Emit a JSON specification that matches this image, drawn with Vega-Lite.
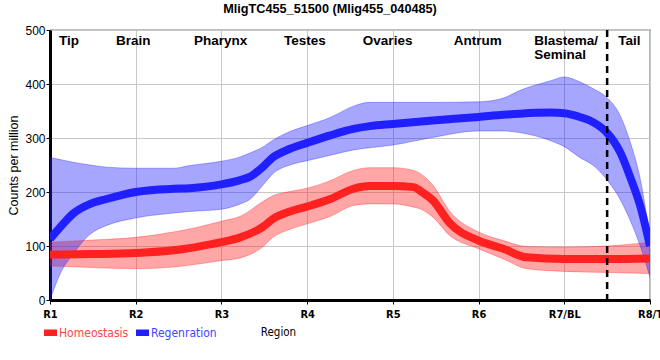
{
  "$schema": "https://vega.github.io/schema/vega-lite/v6.json",
  "width": 600,
  "height": 270,
  "autosize": {"type": "none"},
  "padding": {"left": 50, "top": 30, "right": 10, "bottom": 60},
  "background": "white",
  "title": {
    "text": "MligTC455_51500 (Mlig455_040485)",
    "font": "Liberation Sans",
    "fontSize": 12.7,
    "fontWeight": "bold",
    "color": "#000",
    "anchor": "middle",
    "frame": "group",
    "dx": -20,
    "offset": -2,
    "baseline": "alphabetic"
  },
  "config": {
    "view": {"stroke": "#000", "strokeWidth": 1.2},
    "axis": {
      "gridColor": "#c8c8c8",
      "gridWidth": 1,
      "domainColor": "#000",
      "domainWidth": 3,
      "tickColor": "#000",
      "tickSize": 4,
      "labelColor": "#000",
      "titleColor": "#000"
    }
  },
  "datasets": {
    "curves": [
      {"series": "Homeostasis", "x": 1.0, "mean": 84, "lo": 63, "hi": 107},
      {"series": "Homeostasis", "x": 1.5, "mean": 85, "lo": 60, "hi": 111},
      {"series": "Homeostasis", "x": 2.0, "mean": 87, "lo": 58, "hi": 116},
      {"series": "Homeostasis", "x": 2.44, "mean": 92, "lo": 61, "hi": 126},
      {"series": "Homeostasis", "x": 2.7, "mean": 98, "lo": 66, "hi": 134},
      {"series": "Homeostasis", "x": 3.0, "mean": 107, "lo": 73, "hi": 146},
      {"series": "Homeostasis", "x": 3.22, "mean": 116, "lo": 78, "hi": 155},
      {"series": "Homeostasis", "x": 3.48, "mean": 135, "lo": 98, "hi": 182},
      {"series": "Homeostasis", "x": 3.6, "mean": 150, "lo": 116, "hi": 193},
      {"series": "Homeostasis", "x": 3.8, "mean": 164, "lo": 131, "hi": 201},
      {"series": "Homeostasis", "x": 4.0, "mean": 173, "lo": 141, "hi": 207},
      {"series": "Homeostasis", "x": 4.27, "mean": 187, "lo": 155, "hi": 221},
      {"series": "Homeostasis", "x": 4.54, "mean": 206, "lo": 175, "hi": 240},
      {"series": "Homeostasis", "x": 4.73, "mean": 211, "lo": 178, "hi": 245},
      {"series": "Homeostasis", "x": 5.0, "mean": 211, "lo": 178, "hi": 245},
      {"series": "Homeostasis", "x": 5.24, "mean": 209, "lo": 172, "hi": 240},
      {"series": "Homeostasis", "x": 5.33, "mean": 201, "lo": 168, "hi": 233},
      {"series": "Homeostasis", "x": 5.47, "mean": 184, "lo": 153, "hi": 212},
      {"series": "Homeostasis", "x": 5.66, "mean": 143, "lo": 120, "hi": 165},
      {"series": "Homeostasis", "x": 6.0, "mean": 110, "lo": 95, "hi": 126},
      {"series": "Homeostasis", "x": 6.29, "mean": 95, "lo": 76, "hi": 110},
      {"series": "Homeostasis", "x": 6.56, "mean": 79, "lo": 58, "hi": 99},
      {"series": "Homeostasis", "x": 7.0, "mean": 76, "lo": 53, "hi": 98},
      {"series": "Homeostasis", "x": 7.5, "mean": 76, "lo": 51, "hi": 100},
      {"series": "Homeostasis", "x": 8.0, "mean": 77, "lo": 49, "hi": 107},
      {"series": "Regenration", "x": 1.0, "mean": 113, "lo": 0, "hi": 264},
      {"series": "Regenration", "x": 1.12, "mean": 135, "lo": 49, "hi": 260},
      {"series": "Regenration", "x": 1.27, "mean": 160, "lo": 85, "hi": 255},
      {"series": "Regenration", "x": 1.47, "mean": 178, "lo": 122, "hi": 250},
      {"series": "Regenration", "x": 1.66, "mean": 187, "lo": 138, "hi": 246},
      {"series": "Regenration", "x": 2.0, "mean": 200, "lo": 152, "hi": 244},
      {"series": "Regenration", "x": 2.44, "mean": 206, "lo": 161, "hi": 244},
      {"series": "Regenration", "x": 2.63, "mean": 207, "lo": 164, "hi": 249},
      {"series": "Regenration", "x": 3.0, "mean": 214, "lo": 168, "hi": 257},
      {"series": "Regenration", "x": 3.22, "mean": 222, "lo": 178, "hi": 265},
      {"series": "Regenration", "x": 3.33, "mean": 228, "lo": 186, "hi": 272},
      {"series": "Regenration", "x": 3.48, "mean": 246, "lo": 212, "hi": 283},
      {"series": "Regenration", "x": 3.6, "mean": 264, "lo": 234, "hi": 296},
      {"series": "Regenration", "x": 3.8, "mean": 280, "lo": 250, "hi": 312},
      {"series": "Regenration", "x": 4.0, "mean": 291, "lo": 258, "hi": 323},
      {"series": "Regenration", "x": 4.27, "mean": 305, "lo": 268, "hi": 338},
      {"series": "Regenration", "x": 4.54, "mean": 317, "lo": 278, "hi": 359},
      {"series": "Regenration", "x": 4.73, "mean": 322, "lo": 282, "hi": 366},
      {"series": "Regenration", "x": 5.0, "mean": 326, "lo": 287, "hi": 366},
      {"series": "Regenration", "x": 5.43, "mean": 332, "lo": 300, "hi": 366},
      {"series": "Regenration", "x": 6.0, "mean": 339, "lo": 313, "hi": 367},
      {"series": "Regenration", "x": 6.29, "mean": 343, "lo": 313, "hi": 374},
      {"series": "Regenration", "x": 6.48, "mean": 345, "lo": 310, "hi": 388},
      {"series": "Regenration", "x": 6.84, "mean": 347, "lo": 295, "hi": 406},
      {"series": "Regenration", "x": 7.0, "mean": 346, "lo": 284, "hi": 413},
      {"series": "Regenration", "x": 7.18, "mean": 339, "lo": 264, "hi": 404},
      {"series": "Regenration", "x": 7.34, "mean": 329, "lo": 249, "hi": 391},
      {"series": "Regenration", "x": 7.49, "mean": 311, "lo": 224, "hi": 376},
      {"series": "Regenration", "x": 7.66, "mean": 271, "lo": 184, "hi": 339},
      {"series": "Regenration", "x": 7.77, "mean": 227, "lo": 147, "hi": 292},
      {"series": "Regenration", "x": 7.89, "mean": 172, "lo": 98, "hi": 221},
      {"series": "Regenration", "x": 8.0, "mean": 100, "lo": 42, "hi": 115}
    ],
    "regions": [
      {"label": "Tip", "x": 1.105},
      {"label": "Brain", "x": 1.77},
      {"label": "Pharynx", "x": 2.68},
      {"label": "Testes", "x": 3.73},
      {"label": "Ovaries", "x": 4.65},
      {"label": "Antrum", "x": 5.71},
      {"label": "Blastema/\nSeminal", "x": 6.65},
      {"label": "Tail", "x": 7.63}
    ],
    "divider": [{"x": 7.5}]
  },
  "encoding": {
    "x": {
      "field": "x",
      "type": "quantitative",
      "scale": {"domain": [1, 8], "nice": false, "zero": false},
      "axis": {
        "values": [1, 2, 3, 4, 5, 6, 7, 8],
        "labelExpr": "['R1','R2','R3','R4','R5','R6','R7/BL','R8/T'][datum.value - 1]",
        "labelFont": "Liberation Sans Narrow, DejaVu Sans Condensed, Liberation Sans",
        "labelFontWeight": "bold",
        "labelFontSize": 11,
        "labelPadding": 4,
        "labelFlush": false,
        "labelOverlap": false,
        "labelBound": false,
        "title": "Region",
        "titleFont": "Liberation Sans Narrow, DejaVu Sans Condensed, Liberation Sans",
        "titleFontWeight": "normal",
        "titleFontSize": 11.5,
        "titleX": 228,
        "titleY": 35,
        "titleAlign": "center",
        "titleBaseline": "alphabetic",
        "titleAnchor": null
      }
    }
  },
  "layer": [
    {
      "data": {"name": "curves"},
      "mark": {"type": "area", "interpolate": "monotone", "opacity": 0.4, "clip": true},
      "encoding": {
        "y": {
          "field": "lo",
          "type": "quantitative",
          "scale": {"domain": [0, 500], "nice": false},
          "axis": {
            "values": [0, 50, 100, 150, 200, 250, 300, 350, 400, 450, 500],
            "labelFont": "Liberation Sans",
            "labelFontSize": 12,
            "labelPadding": 1,
            "title": "Counts per million",
            "titleFont": "Liberation Sans",
            "titleFontWeight": "normal",
            "titleFontSize": 12.5,
            "titleAngle": -90,
            "titleX": -37,
            "titleY": 135,
            "titleAlign": "center",
            "titleBaseline": "middle",
            "titleAnchor": null
          }
        },
        "y2": {"field": "hi"},
        "color": {
          "field": "series",
          "type": "nominal",
          "scale": {"domain": ["Homeostasis", "Regenration"], "range": ["#ff2020", "#2020ff"]},
          "legend": {
            "orient": "none",
            "legendX": -6,
            "legendY": 296,
            "direction": "horizontal",
            "title": null,
            "symbolType": "M-1,-0.5H1V0.5H-1Z",
            "symbolSize": 169,
            "symbolStrokeWidth": 0,
            "symbolOpacity": 1,
            "labelFont": "Liberation Sans Narrow, DejaVu Sans Condensed, Liberation Sans",
            "labelFontSize": 12,
            "labelOffset": 2,
            "columnPadding": 7,
            "padding": 0,
            "encode": {
              "symbols": {"update": {"fill": {"scale": "color", "field": "value"}, "opacity": {"value": 1}, "fillOpacity": {"value": 1}}},
              "labels": {"update": {"fill": {"signal": "datum.value === 'Homeostasis' ? '#ff4444' : '#4444ff'"}}}
            }
          }
        }
      }
    },
    {
      "data": {"name": "curves"},
      "transform": [{"fold": ["lo", "hi"], "as": ["edge", "val"]}],
      "mark": {"type": "line", "interpolate": "monotone", "strokeWidth": 1, "opacity": 0.35, "clip": true},
      "encoding": {
        "y": {"field": "val", "type": "quantitative"},
        "color": {"field": "series", "type": "nominal"},
        "detail": {"field": "edge"}
      }
    },
    {
      "data": {"name": "curves"},
      "mark": {"type": "line", "interpolate": "monotone", "strokeWidth": 8, "clip": true},
      "encoding": {
        "y": {"field": "mean", "type": "quantitative"},
        "color": {"field": "series", "type": "nominal"}
      }
    },
    {
      "data": {"name": "divider"},
      "mark": {"type": "rule", "strokeDash": [7, 5], "strokeWidth": 2.5, "color": "#000"},
      "encoding": {"x": {"field": "x", "type": "quantitative"}}
    },
    {
      "data": {"name": "regions"},
      "mark": {
        "type": "text",
        "align": "left",
        "baseline": "alphabetic",
        "font": "Liberation Sans",
        "fontWeight": "bold",
        "fontSize": 13.5,
        "lineBreak": "\n",
        "lineHeight": 14,
        "color": "#000"
      },
      "encoding": {
        "y": {"datum": 473, "type": "quantitative"},
        "text": {"field": "label"}
      }
    }
  ]
}
